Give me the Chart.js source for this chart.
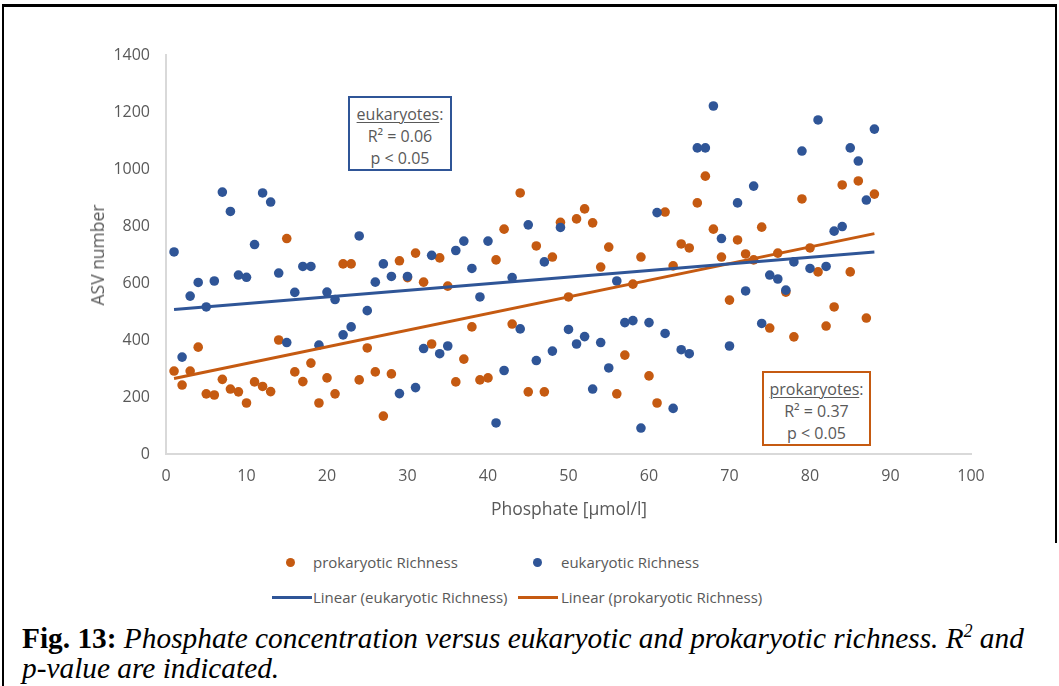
<!DOCTYPE html>
<html>
<head>
<meta charset="utf-8">
<script src="https://cdn.jsdelivr.net/npm/chart.js@4"></script>
<style>
  body { margin: 0; background: #fff; width: 1059px; height: 686px; overflow: hidden; position: relative; font-family: 'Open Sans', sans-serif; }
  #frameL { position: absolute; left: 2px; top: 4px; width: 0; height: 700px; border-left: 2px solid #000; }
  #frameT { position: absolute; left: 2px; top: 4px; width: 1053px; height: 536px; border-top: 3px solid #000; border-right: 2px solid #000; }
  #wrap { position: absolute; left: 0; top: 0; width: 1059px; height: 530px; }
  .axt { position: absolute; color: #595959; font-size: 17.5px; white-space: nowrap; }
  .box { position: absolute; border: 2px solid; box-sizing: border-box; color: #595959; font-size: 16px; text-align: center; line-height: 22px; padding-top: 5px; background: #fff; }
  .box u { text-decoration-thickness: 1px; text-underline-offset: 2px; }
  .lg { position: absolute; color: #595959; font-size: 15px; white-space: nowrap; line-height: 20px; }
  .dot { position: absolute; width: 9px; height: 9px; border-radius: 50%; }
  .ln { position: absolute; height: 3px; }
  #cap { position: absolute; left: 22px; top: 623px; font-family: 'Liberation Serif', 'Times New Roman', serif; font-size: 30px; line-height: 30px; color: #000; white-space: nowrap; transform-origin: 0 0; }
  #cap i sup { font-size: 18px; line-height: 0; vertical-align: 11px; }
</style>
</head>
<body>
<div id="frameL"></div>
<div id="frameT"></div>
<div id="wrap"><canvas id="chart"></canvas></div>

<div class="axt" style="left:97px; top:255px; transform: translate(-50%,-50%) rotate(-90deg);">ASV number</div>
<div class="axt" style="left:569px; top:508px; transform: translate(-50%,-50%);">Phosphate [µmol/l]</div>

<div class="box" style="left:348px; top:96px; width:104px; height:75px; border-color:#2F5597;"><u>eukaryotes</u>:<br>R² = 0.06<br>p &lt; 0.05</div>
<div class="box" style="left:762px; top:371px; width:109px; height:75px; border-color:#C55A11;"><u>prokaryotes</u>:<br>R² = 0.37<br>p &lt; 0.05</div>

<div class="dot" style="left:286px; top:558px; background:#C55A11;"></div>
<div class="lg" style="left:313px; top:552px;">prokaryotic Richness</div>
<div class="dot" style="left:533px; top:558px; background:#2F5597;"></div>
<div class="lg" style="left:561px; top:552px;">eukaryotic Richness</div>
<div class="ln" style="left:272px; top:596px; width:40px; background:#2F5597;"></div>
<div class="lg" style="left:313px; top:587px;">Linear (eukaryotic Richness)</div>
<div class="ln" style="left:518px; top:596px; width:40px; background:#C55A11;"></div>
<div class="lg" style="left:561px; top:587px;">Linear (prokaryotic Richness)</div>

<div id="cap"><b>Fig. 13:</b> <i>Phosphate concentration versus eukaryotic and prokaryotic richness. R<sup>2</sup> and</i><br><i>p-value are indicated.</i></div>

<script>
// phosphate [µmol/l] per sample
const phosphate = [
  1, 2, 3, 4, 5, 6, 7, 8, 9, 10, 11, 12, 13, 14, 15, 16, 17, 18, 19, 20, 21, 22,
  23, 24, 25, 26, 27, 28, 29, 30, 31, 32, 33, 34, 35, 36, 37, 38, 39, 40, 41, 42, 43, 44,
  45, 46, 47, 48, 49, 50, 51, 52, 53, 54, 55, 56, 57, 58, 59, 60, 61, 62, 63, 64, 65, 66,
  67, 68, 69, 70, 71, 72, 73, 74, 75, 76, 77, 78, 79, 80, 81, 82, 83, 84, 85, 86, 87, 88
];

const prokaryotic = [
  291, 242, 291, 375, 211, 207, 262, 228, 218, 179, 253, 237, 219, 400, 756, 288, 254, 319, 179, 267, 211, 667,
  667, 260, 372, 288, 133, 281, 678, 619, 705, 603, 386, 688, 589, 253, 333, 446, 260, 267, 681, 789, 456, 916,
  218, 730, 218, 691, 813, 551, 825, 860, 811, 656, 726, 211, 347, 596, 691, 274, 179, 849, 660, 737, 723, 881,
  975, 789, 691, 540, 751, 702, 681, 796, 442, 705, 568, 411, 895, 723, 639, 449, 516, 944, 639, 958, 477, 912
];

const eukaryotic = [
  709, 340, 554, 602, 516, 607, 919, 851, 628, 620, 735, 916, 884, 635, 391, 567, 658, 658, 382, 568, 542, 418,
  446, 765, 503, 603, 667, 623, 212, 623, 233, 370, 697, 352, 379, 714, 747, 651, 551, 747, 109, 293, 619, 439,
  804, 328, 674, 361, 795, 437, 386, 412, 228, 391, 302, 607, 461, 468, 91, 461, 847, 423, 160, 366, 352, 1074,
  1074, 1221, 756, 379, 881, 572, 940, 458, 628, 614, 575, 674, 1063, 651, 1172, 658, 782, 798, 1074, 1028, 891, 1140
];

const xTicks = [0, 10, 20, 30, 40, 50, 60, 70, 80, 90, 100];
const yTicks = [0, 200, 400, 600, 800, 1000, 1200, 1400];

const BLUE = '#2F5597';
const ORANGE = '#C55A11';

function points(ys) {
  return phosphate.map((x, i) => ({ x: x, y: ys[i] }));
}

// least-squares trend line over the sampled range
function trend(ys) {
  const n = phosphate.length;
  let sx = 0, sy = 0, sxx = 0, sxy = 0;
  for (let i = 0; i < n; i++) {
    sx += phosphate[i]; sy += ys[i];
    sxx += phosphate[i] * phosphate[i]; sxy += phosphate[i] * ys[i];
  }
  const b = (n * sxy - sx * sy) / (n * sxx - sx * sx);
  const a = (sy - b * sx) / n;
  const x0 = phosphate[0], x1 = phosphate[n - 1];
  return [{ x: x0, y: a + b * x0 }, { x: x1, y: a + b * x1 }];
}

const tickFont = { family: 'Open Sans', size: 16 };

new Chart(document.getElementById('chart'), {
  type: 'scatter',
  data: {
    datasets: [
      { type: 'line', label: 'Linear (eukaryotic Richness)', data: trend(eukaryotic), borderColor: BLUE, borderWidth: 3, pointRadius: 0, order: 0 },
      { type: 'line', label: 'Linear (prokaryotic Richness)', data: trend(prokaryotic), borderColor: ORANGE, borderWidth: 3, pointRadius: 0, order: 0 },
      { label: 'eukaryotic Richness', data: points(eukaryotic), backgroundColor: BLUE, borderWidth: 0, pointRadius: 4.8, order: 1 },
      { label: 'prokaryotic Richness', data: points(prokaryotic), backgroundColor: ORANGE, borderWidth: 0, pointRadius: 4.8, order: 2 }
    ]
  },
  options: {
    responsive: true,
    maintainAspectRatio: false,
    animation: false,
    layout: { padding: { top: 55, right: 88, left: 0, bottom: 0 } },
    plugins: { legend: { display: false }, tooltip: { enabled: false } },
    scales: {
      x: {
        type: 'linear', min: 0, max: 100,
        afterBuildTicks: (s) => { s.ticks = xTicks.map(v => ({ value: v })); },
        afterFit: (s) => { s.height = 76; },
        grid: { display: false, drawTicks: false },
        border: { display: true, color: '#d9d9d9', width: 2 },
        ticks: { color: '#595959', font: tickFont, padding: 13, maxRotation: 0, callback: (v) => String(v) }
      },
      y: {
        type: 'linear', min: 0, max: 1400,
        afterBuildTicks: (s) => { s.ticks = yTicks.map(v => ({ value: v })); },
        afterFit: (s) => { s.width = 166; },
        grid: { display: false, drawTicks: false },
        border: { display: true, color: '#d9d9d9', width: 2 },
        ticks: { color: '#595959', font: tickFont, padding: 16, callback: (v) => String(v) }
      }
    }
  }
});

// squeeze the caption's first line to the figure width
const cap = document.getElementById('cap');
const k = 1001 / cap.scrollWidth;
cap.style.transform = 'scaleX(' + k.toFixed(3) + ')';
</script>
</body>
</html>
